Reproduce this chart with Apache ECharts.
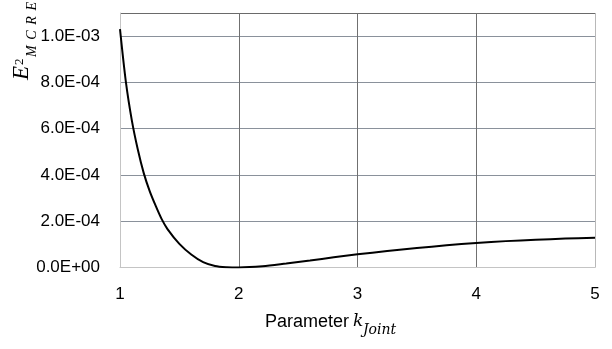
<!DOCTYPE html>
<html>
<head>
<meta charset="utf-8">
<script src="https://cdn.jsdelivr.net/npm/echarts@6/dist/echarts.min.js"></script>
<style>
html,body{margin:0;padding:0;background:#fff;}
#chart{width:612px;height:349px;}
</style>
</head>
<body>
<div id="chart"></div>
<script>
// Data
var kValues = [1.0, 1.05, 1.1, 1.15, 1.2, 1.25, 1.3, 1.35, 1.4, 1.5, 1.6, 1.7, 1.8, 1.9, 2.0, 2.2, 2.4, 2.6, 2.8, 3.0, 3.25, 3.5, 3.75, 4.0, 4.25, 4.5, 4.75, 5.0];
var errValues = [1.03e-3, 8.0e-4, 6.35e-4, 5.1e-4, 4.08e-4, 3.3e-4, 2.67e-4, 2.1e-4, 1.66e-4, 1.02e-4, 5.6e-5, 2.3e-5, 6.5e-6, 1.2e-6, 0, 5e-6, 1.7e-5, 3.0e-5, 4.4e-5, 5.7e-5, 7.1e-5, 8.4e-5, 9.6e-5, 1.06e-4, 1.14e-4, 1.2e-4, 1.25e-4, 1.29e-4];
var xTicks = [1, 2, 3, 4, 5];
var yTickStep = 2e-4;
var yMax = 1.1e-3;
var xTitle = 'Parameter';
var xTitleSym = 'k';
var xTitleSub = 'Joint';
var yTitleMain = 'E';
var yTitleSup = '2';
var yTitleSub = ['M', 'C', 'R', 'E'];

function fmtSci(v) {
  var r = Math.abs(v / yTickStep - Math.round(v / yTickStep));
  if (r > 1e-6) return '';
  var s = v.toExponential(1);
  var parts = s.split('e');
  var exp = parseInt(parts[1], 10);
  var sign = exp < 0 ? '-' : '+';
  var e = Math.abs(exp);
  return parts[0] + 'E' + sign + (e < 10 ? '0' + e : '' + e);
}

var seriesData = kValues.map(function (k, i) { return [k, errValues[i]]; });

var chart = echarts.init(document.getElementById('chart'), null, {renderer: 'canvas'});

function txt(t, x, y, font, rot) {
  var o = {type: 'text', x: x, y: y,
    style: {text: t, font: font, fill: '#000', textAlign: 'left', textVerticalAlign: 'middle', align: 'left', verticalAlign: 'middle'}};
  if (rot) o.rotation = Math.PI / 2;
  return o;
}

var subPos = [57, 39.7, 24.8, 10.6];
var graphics = [
  txt(yTitleMain, 22, 80, 'italic 23px "Liberation Serif"', true),
  txt(yTitleSup, 20, 65, '13px "Liberation Serif"', true),
  txt(xTitle, 265, 322, '18px "Liberation Sans"', false),
  txt(xTitleSym, 353, 322, 'italic 17px "DejaVu Serif"', false),
  txt(xTitleSub, 363, 330, 'italic 14px "DejaVu Serif"', false)
];
yTitleSub.forEach(function (ch, i) {
  graphics.push(txt(ch, 32, subPos[i], 'italic 14px "Liberation Serif"', true));
});

var option = {
  animation: false,
  backgroundColor: '#ffffff',
  grid: {left: 120, right: 17, top: 13, bottom: 81.5, containLabel: false},
  xAxis: {
    type: 'value', min: xTicks[0], max: xTicks[xTicks.length - 1], interval: 1,
    axisLine: {show: true, lineStyle: {color: '#c4c4c4', width: 1}},
    axisTick: {show: false},
    axisLabel: {color: '#000', fontSize: 17, fontFamily: 'Liberation Sans', margin: 18},
    splitLine: {show: true, lineStyle: {color: ['#c4c4c4', '#707070', '#707070', '#707070', '#b8b8b8'], width: 1}}
  },
  yAxis: {
    type: 'value', min: 0, max: yMax, interval: yTickStep,
    axisLine: {show: true, lineStyle: {color: '#c4c4c4', width: 1}},
    axisTick: {show: false},
    axisLabel: {color: '#000', fontSize: 17, fontFamily: 'Liberation Sans', margin: 20, formatter: fmtSci},
    splitLine: {show: true, lineStyle: {color: ['#c4c4c4', '#8a919b', '#8a919b', '#8a919b', '#8a919b', '#8a919b', '#6a6a6a'], width: 1}}
  },
  graphic: graphics,
  series: [{
    type: 'line', data: seriesData, smooth: 0.3, showSymbol: false, symbol: 'none',
    lineStyle: {color: '#000', width: 2}, z: 5
  }]
};
chart.setOption(option);
</script>
</body>
</html>
